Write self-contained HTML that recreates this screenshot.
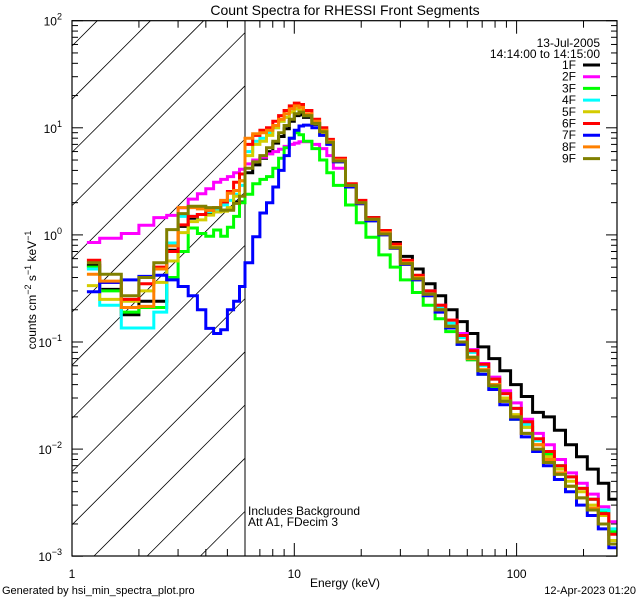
<!DOCTYPE html>
<html><head><meta charset="utf-8">
<style>
html,body{margin:0;padding:0;background:#fff;width:640px;height:600px;overflow:hidden;}
svg{display:block;font-family:"Liberation Sans",sans-serif;}
</style></head>
<body>
<svg id="chart" width="640" height="600" viewBox="0 0 640 600" xmlns="http://www.w3.org/2000/svg">
<rect x="0" y="0" width="640" height="600" fill="#fff"/>
<defs><clipPath id="plotclip"><rect x="72" y="20.7" width="545" height="535.3"/></clipPath></defs>
<g id="hatch"></g>
<line x1="245" y1="20.7" x2="245" y2="556" stroke="#000" stroke-width="1"/>
<g id="series" clip-path="url(#plotclip)"></g>
<rect x="72" y="20.7" width="545" height="535.3" fill="none" stroke="#000" stroke-width="1.2"/>
<g id="axes"></g>
<text x="345" y="15" font-size="14" text-anchor="middle">Count Spectra for RHESSI Front Segments</text>
<text x="345" y="587" font-size="12" text-anchor="middle">Energy (keV)</text>
<text transform="translate(36,290) rotate(-90)" font-size="12" text-anchor="middle">counts cm<tspan dy="-5" font-size="9">−2</tspan><tspan dy="5"> s</tspan><tspan dy="-5" font-size="9">−1</tspan><tspan dy="5"> keV</tspan><tspan dy="-5" font-size="9">−1</tspan></text>
<text x="248" y="515" font-size="12">Includes Background</text>
<text x="248" y="526" font-size="12">Att A1, FDecim 3</text>
<text x="2" y="594" font-size="11">Generated by hsi_min_spectra_plot.pro</text>
<text x="636" y="594" font-size="11" text-anchor="end">12-Apr-2023 01:20</text>
<text x="600" y="47" font-size="12" text-anchor="end">13-Jul-2005</text>
<text x="600" y="58" font-size="12" text-anchor="end">14:14:00 to 14:15:00</text>
<g id="legend"></g>
</svg>
<script>
const NS="http://www.w3.org/2000/svg";
const edges=[1.167,1.333,1.667,2,2.333,2.667,3,3.333,3.667,4,4.333,4.667,5,5.333,5.667,6,
6.5,7,7.5,8,8.5,9,9.5,10,10.5,11,12,13,14,15,17,19,21,24,27,30,34,38,43,48,54,60,67,75,84,94,105,118,132,148,166,186,208,233,260,285];
const seriesNames=["1F","2F","3F","4F","5F","6F","7F","8F","9F"];
const seriesColors=["#000000","#ff00ff","#00ff00","#00ffff","#d4cc00","#ff0000","#0000ff","#ff8000","#808000"];
const s1F=[0.52,0.31,0.18,0.24,0.24,0.72,1.2,1.43,1.55,1.6,1.65,1.7,1.75,2.03,2.03,
3.8,4.5,5.2,6,7.2,8.3,9.8,11.5,13,13.2,12.5,10.8,9.0,7.2,4.9,2.9,2.0,1.45,1.1,0.85,0.63,0.48,0.35,0.27,0.2,0.155,0.12,0.09,0.07,0.054,0.04,0.031,0.022,0.02,0.015,0.011,0.0085,0.0065,0.0048,0.0034];
const s2F=[0.85,0.93,1.03,1.23,1.45,1.52,1.79,2.16,2.42,2.7,3.1,3.3,3.5,3.8,4.1,
4.6,5.0,5.3,5.7,6.0,6.3,6.7,7.0,7.2,7.4,7.4,7.0,6.4,5.5,4.2,2.8,2.0,1.4,1.05,0.78,0.56,0.41,0.3,0.22,0.16,0.12,0.085,0.063,0.047,0.035,0.027,0.019,0.014,0.011,0.008,0.006,0.0048,0.0038,0.0029,0.0021];
const s3F=[0.50,0.30,0.19,0.21,0.21,0.40,0.70,1.16,1.03,0.97,1.11,0.97,1.18,1.49,2.0,
2.4,3.0,3.3,3.5,4.2,5.2,6.5,8,9.0,8.6,7.5,6.4,5.0,3.8,2.9,1.9,1.3,0.95,0.65,0.5,0.38,0.29,0.22,0.165,0.125,0.095,0.068,0.05,0.037,0.028,0.019,0.016,0.011,0.009,0.007,0.0055,0.0043,0.0034,0.0026,0.0017];
const s4F=[0.48,0.22,0.135,0.135,0.19,0.84,1.49,1.49,1.55,1.65,1.7,1.9,2.1,2.4,2.9,
6.0,7.5,8.0,9.0,10,11.5,12.5,14,15,14.5,13,11,9.2,7.3,4.9,2.9,2.0,1.4,1.05,0.78,0.56,0.41,0.3,0.21,0.15,0.11,0.08,0.06,0.045,0.033,0.024,0.017,0.012,0.0095,0.007,0.0055,0.0043,0.0034,0.0027,0.0018];
const s5F=[0.336,0.25,0.24,0.30,0.36,0.57,1.05,1.33,1.38,1.53,1.64,1.66,1.8,2.3,3.2,
5.5,7.0,7.5,8.5,10,11.5,12.5,14,15,14.5,13,11,9,7.2,4.8,2.8,1.95,1.35,1.0,0.75,0.53,0.38,0.27,0.19,0.14,0.1,0.072,0.055,0.04,0.03,0.021,0.016,0.011,0.0085,0.0065,0.005,0.004,0.003,0.0024,0.0014];
const s6F=[0.58,0.36,0.25,0.35,0.50,0.70,1.24,1.49,1.55,1.7,1.8,2.03,2.54,3.1,3.7,
7.0,8.5,9.5,10,11.5,13,14.5,16,17,16.5,14.5,12,10,7.8,5.2,3.0,2.1,1.45,1.1,0.82,0.58,0.42,0.30,0.22,0.16,0.115,0.083,0.062,0.045,0.033,0.024,0.018,0.0125,0.0095,0.007,0.0055,0.0043,0.0034,0.0025,0.0016];
const s7F=[0.295,0.36,0.38,0.41,0.42,0.38,0.33,0.27,0.20,0.134,0.12,0.13,0.20,0.24,0.33,
0.55,0.96,1.6,2.0,2.8,4.0,5.5,8.0,9.5,10.4,10.6,10,8.5,7.0,4.8,2.8,1.95,1.35,1.0,0.75,0.53,0.38,0.27,0.19,0.135,0.095,0.07,0.05,0.036,0.026,0.019,0.013,0.0095,0.007,0.0052,0.004,0.003,0.0024,0.0018,0.0012];
const s8F=[0.43,0.37,0.21,0.215,0.48,0.79,1.8,1.8,1.75,1.7,1.8,2.1,2.45,2.6,3.2,
8.0,8.8,9.0,9.5,10.5,12,13.5,15,16,15.5,13.5,11.5,9.5,7.5,5.0,2.9,2.0,1.4,1.05,0.78,0.55,0.40,0.28,0.2,0.14,0.1,0.07,0.055,0.04,0.028,0.02,0.014,0.011,0.008,0.006,0.0045,0.0035,0.0028,0.002,0.0013];
const s9F=[0.55,0.43,0.27,0.40,0.55,1.12,1.58,1.85,1.85,1.8,1.8,1.7,1.7,1.97,2.3,
4.2,4.8,5.5,6.5,7.5,9,10.5,12,13.5,14,13,11,9.2,7.3,4.9,2.9,2.0,1.4,1.02,0.76,0.54,0.39,0.28,0.2,0.14,0.1,0.072,0.054,0.039,0.028,0.02,0.014,0.01,0.0075,0.0058,0.0045,0.0035,0.0027,0.002,0.0013];
const allSeries=[s1F,s2F,s3F,s4F,s5F,s6F,s7F,s8F,s9F];
const xTickMajor=[1,10,100];
const xTickLabels=["1","10","100"];
const yTickExp=[-3,-2,-1,0,1,2];

const X0=72,XDEC=222.3,Y0=20.7,YDEC=107.1,XR=617,YB=556;
function xs(e){return X0+XDEC*Math.log10(e);}
function ys(v){return Y0+(2-Math.log10(v))*YDEC;}
function mk(tag,attrs,parent){const el=document.createElementNS(NS,tag);for(const k in attrs)el.setAttribute(k,attrs[k]);parent.appendChild(el);return el;}

const hatch=document.getElementById('hatch');
for(let k=-2;k<14;k++){
  const b=578-53.2*k;
  const xa=Math.max(72,72+b-YB), xb=Math.min(245,72+b-Y0);
  if(xb<=xa) continue;
  const l=mk('line',{x1:xa,y1:b-(xa-72),x2:xb,y2:b-(xb-72),stroke:'#000','stroke-width':0.8},hatch);
  
  
}

const sg=document.getElementById('series');
allSeries.forEach((vals,i)=>{
  let d='';
  for(let j=0;j<vals.length;j++){
    const xa=xs(edges[j]).toFixed(1),xb=xs(edges[j+1]).toFixed(1),y=ys(vals[j]).toFixed(1);
    d+=(j===0?'M':'L')+xa+','+y+'L'+xb+','+y;
  }
  if(i===8) d+='L'+xs(edges[edges.length-1]).toFixed(1)+','+YB;
  const p=mk('path',{d:d,fill:'none',stroke:seriesColors[i],'stroke-width':3,'stroke-linejoin':'miter'},sg);
  
  
});

const ax=document.getElementById('axes');
for(let dec=0;dec<3;dec++){
  for(let m=1;m<10;m++){
    const e=Math.pow(10,dec)*m; if(e>285)break;
    const x=xs(e),len=m===1?13:7;
    mk('line',{x1:x,y1:YB,x2:x,y2:YB-len,stroke:'#000','stroke-width':1},ax);
    mk('line',{x1:x,y1:Y0,x2:x,y2:Y0+len,stroke:'#000','stroke-width':1},ax);
  }
}
xTickMajor.forEach((e,i)=>{
  const t=mk('text',{x:xs(e),y:578,'font-size':12,'text-anchor':'middle'},ax);
  t.textContent=xTickLabels[i];
  
  
});
yTickExp.forEach(p=>{
  for(let m=1;m<10;m++){
    const v=Math.pow(10,p)*m; if(v>100.01)break;
    const y=ys(v),len=m===1?11:6;
    mk('line',{x1:X0,y1:y,x2:X0+len,y2:y,stroke:'#000','stroke-width':1},ax);
    mk('line',{x1:XR,y1:y,x2:XR-len,y2:y,stroke:'#000','stroke-width':1},ax);
  }
  const t=mk('text',{x:62,y:ys(Math.pow(10,p))+5,'font-size':12,'text-anchor':'end'},ax);
  
  
  t.appendChild(document.createTextNode('10'));
  const s=document.createElementNS(NS,'tspan');
  s.setAttribute('dy','-6');s.setAttribute('font-size','9');
  s.textContent=(p<0?'−':'')+Math.abs(p);
  t.appendChild(s);
});

const lg=document.getElementById('legend');
seriesNames.forEach((n,i)=>{
  const y=65+11.7*i;
  const t=mk('text',{x:576,y:y+4,'font-size':12,'text-anchor':'end'},lg);
  t.textContent=n;
  
  
  const l=mk('line',{x1:583,y1:y,x2:600,y2:y,stroke:seriesColors[i],'stroke-width':3},lg);
  
  
});
</script>
</body></html>
